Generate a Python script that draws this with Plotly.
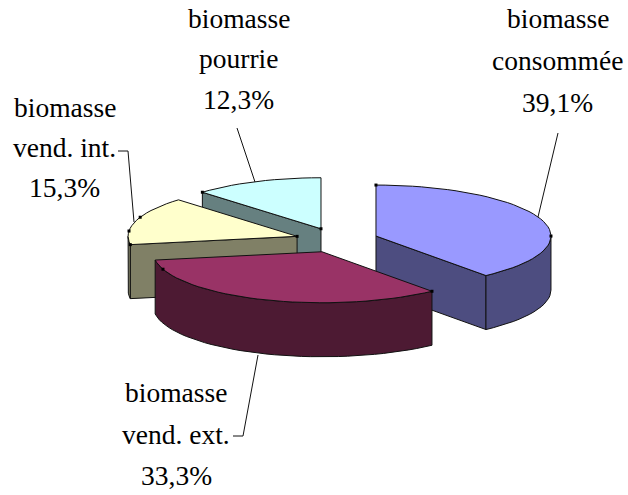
import math
import plotly.graph_objects as go

# Data
names = ["biomasse consommée", "biomasse vend. ext.", "biomasse vend. int.", "biomasse pourrie"]
values = [39.1, 33.3, 15.3, 12.3]
label_lines = [["biomasse", "consommée"], ["biomasse", "vend. ext."], ["biomasse", "vend. int."], ["biomasse", "pourrie"]]
top_colors = ["#9999FF", "#993366", "#FFFFCC", "#CCFFFF"]
side_colors = ["#4D4D80", "#4D1A33", "#808066", "#668080"]

# Projection of the tilted, exploded pie (PERSP: slight widening towards the right)
CX, CY, RX, RY, DEPTH, EXPLODE, PERSP = 336.7, 240.2, 172.0, 51.0, 54.0, 0.2424, 3.0
total = sum(values)
starts, ends, cum = [], [], 0.0
for v in values:
    starts.append(cum / total * 360)
    cum += v
    ends.append(cum / total * 360)


def apex(i):
    m = math.radians((starts[i] + ends[i]) / 2)
    return CX + EXPLODE * RX * math.sin(m), CY - EXPLODE * RY * math.cos(m)


def rim(i, deg, drop=0.0):
    ax, ay = apex(i)
    a = math.radians(deg)
    s = math.sin(a)
    return ax + (RX + PERSP * s) * s, ay - RY * math.cos(a) + drop


def arc(i, a, b, drop=0.0, step=3.0):
    n = max(1, int(abs(b - a) / step))
    return [rim(i, a + (b - a) * k / n, drop) for k in range(n + 1)]


def poly(pts, fill):
    xs = [p[0] for p in pts] + [pts[0][0]]
    ys = [p[1] for p in pts] + [pts[0][1]]
    return go.Scatter(x=xs, y=ys, mode="lines", fill="toself", fillcolor=fill,
                      line=dict(color="#111111", width=1), hoverinfo="skip", showlegend=False)


def wedge_traces(i):
    out = []
    a0, a1 = starts[i], ends[i]
    ax, ay = apex(i)
    mid = rim(i, (a0 + a1) / 2)
    # radial faces: only when the slice's top lies above the radial edge
    for deg in (a0, a1):
        ex, ey = rim(i, deg)
        dx = ex - ax
        if abs(dx) < 1:
            continue
        line_y = ay + (ey - ay) * (mid[0] - ax) / dx
        if mid[1] < line_y:
            out.append(poly([(ax, ay), (ex, ey), (ex, ey + DEPTH), (ax, ay + DEPTH)], side_colors[i]))
    # outer wall: front half of the rim only
    f0, f1 = max(a0, 90), min(a1, 270)
    if f1 > f0:
        out.append(poly(arc(i, f0, f1) + arc(i, f1, f0, DEPTH), side_colors[i]))
    out.append(poly([(ax, ay)] + arc(i, a0, a1), top_colors[i]))
    return out


fig = go.Figure()
for i in (3, 2, 0, 1):
    for t in wedge_traces(i):
        fig.add_trace(t)

# Small point handles
handle_pts = [rim(0, 0), rim(0, 90), rim(1, ends[0]), rim(1, 250), apex(2), rim(2, ends[1]),
              rim(2, 276), rim(2, 292), apex(3), rim(3, starts[3])]
fig.add_trace(go.Scatter(x=[p[0] for p in handle_pts], y=[p[1] for p in handle_pts], mode="markers",
                         marker=dict(symbol="square", size=3, color="black"),
                         hoverinfo="skip", showlegend=False))

# Leader lines
leaders = [
    ([538, 558], [217, 133]),
    ([255, 237], [182, 128]),
    ([134, 128, 118], [222, 151, 151]),
    ([258, 243, 233], [355, 436, 436]),
]
for lx, ly in leaders:
    fig.add_trace(go.Scatter(x=lx, y=ly, mode="lines", line=dict(color="#111111", width=1),
                             hoverinfo="skip", showlegend=False))

# Labels
label_x = [557.5, 176, 64.7, 238.7]
label_y = [[18, 60, 102], [392, 434, 475], [107, 147, 187], [18, 58, 99]]
for i in range(4):
    texts = label_lines[i] + [f"{values[i]:.1f}%".replace(".", ",")]
    for txt, y in zip(texts, label_y[i]):
        fig.add_annotation(x=label_x[i], y=y, text=txt, showarrow=False, xanchor="center", yanchor="middle",
                           font=dict(family="Liberation Serif", size=27.5, color="black"))

fig.update_layout(
    width=628, height=495, margin=dict(l=0, r=0, t=0, b=0),
    paper_bgcolor="white", plot_bgcolor="white", showlegend=False,
    xaxis=dict(range=[0, 628], visible=False, fixedrange=True),
    yaxis=dict(range=[495, 0], visible=False, fixedrange=True),
)
fig.write_html("out.html", config={"displayModeBar": False},
               post_script="document.body.style.margin='0';document.documentElement.style.overflow='hidden';")
